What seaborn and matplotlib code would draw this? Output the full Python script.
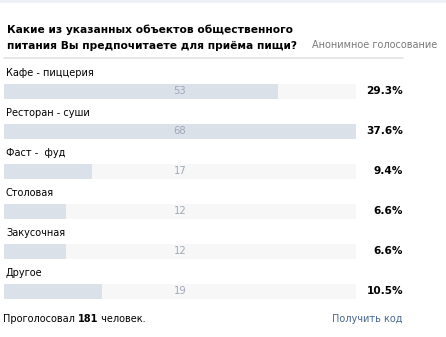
import matplotlib
matplotlib.use("Agg")
import matplotlib.pyplot as plt
import matplotlib.transforms as mtransforms
from matplotlib.patches import Rectangle
import seaborn as sns
import pandas as pd

categories = ["Кафе - пиццерия", "Ресторан - суши", "Фаст -  фуд", "Столовая", "Закусочная", "Другое"]
votes = [53, 68, 17, 12, 12, 19]
percents = ["29.3%", "37.6%", "9.4%", "6.6%", "6.6%", "10.5%"]
title_lines = ["Какие из указанных объектов общественного", "питания Вы предпочитаете для приёма пищи?"]
total_votes = 181

sns.set_theme(style="white")
plt.rcParams["font.family"] = ["DejaVu Sans"]

W, H = 446, 337
fig = plt.figure(figsize=(W / 100, H / 100), dpi=100)
fig.patch.set_facecolor("white")

def fx(px):
    return px / W

def fy(py):
    return 1 - py / H

# top band
fig.patches.append(Rectangle((0, fy(2.5)), 1, 2.5 / H, transform=fig.transFigure,
                             facecolor="#edf1f5", edgecolor="none", zorder=0))
# separator under title
fig.add_artist(plt.Line2D([fx(4), fx(403)], [fy(57.5), fy(57.5)], color="#e4e4e4", lw=1.3))

# title
fig.text(fx(7), fy(30), title_lines[0], fontsize=7.7, fontweight="bold", color="#000000", va="center", ha="left")
fig.text(fx(7), fy(45.5), title_lines[1], fontsize=7.7, fontweight="bold", color="#000000", va="center", ha="left")
fig.text(fx(437), fy(45.5), "Анонимное голосование", fontsize=7.0, color="#7a7a7a", va="center", ha="right")

# bars axes
ax_left, ax_right = 4, 356
ax_top, ax_bot = 71.5, 311.5
ax = fig.add_axes([fx(ax_left), fy(ax_bot), (ax_right - ax_left) / W, (ax_bot - ax_top) / H])

vmax = max(votes)
df = pd.DataFrame({"category": categories, "votes": votes, "track": [vmax] * len(votes)})

sns.barplot(data=df, x="track", y="category", orient="h", color="#f7f7f7", width=0.39,
            saturation=1, ax=ax, order=categories, linewidth=0)
sns.barplot(data=df, x="votes", y="category", orient="h", color="#dae1e8", width=0.39,
            saturation=1, ax=ax, order=categories, linewidth=0)

ax.set_xlim(0, vmax)
ax.set_ylim(len(categories) - 0.5, -0.5)
ax.axis("off")

fig_x = mtransforms.blended_transform_factory(fig.transFigure, ax.transData)
for i, (cat, v, p) in enumerate(zip(categories, votes, percents)):
    ax.text(vmax / 2, i, str(v), ha="center", va="center", fontsize=7.2, color="#9ea8b8")
    ax.text(fx(6), i - 0.46, cat, transform=fig_x, ha="left", va="center", fontsize=7.0,
            color="#000000", clip_on=False)
    ax.text(fx(403), i, p, transform=fig_x, ha="right", va="center", fontsize=7.6,
            fontweight="bold", color="#000000", clip_on=False)

# footer
t1 = fig.text(fx(3), fy(319), "Проголосовал ", fontsize=7.0, color="#000000", va="center", ha="left")
a1 = plt.annotate(str(total_votes), xy=(1, 0.5), xycoords=t1, va="center", ha="left",
                  fontsize=7.0, fontweight="bold", color="#000000", annotation_clip=False)
plt.annotate(" человек.", xy=(1, 0.5), xycoords=a1, va="center", ha="left",
             fontsize=7.0, color="#000000", annotation_clip=False)
fig.text(fx(403), fy(319), "Получить код", fontsize=7.0, color="#45688e", va="center", ha="right")

fig.savefig("out.png", dpi=100, facecolor="white")
